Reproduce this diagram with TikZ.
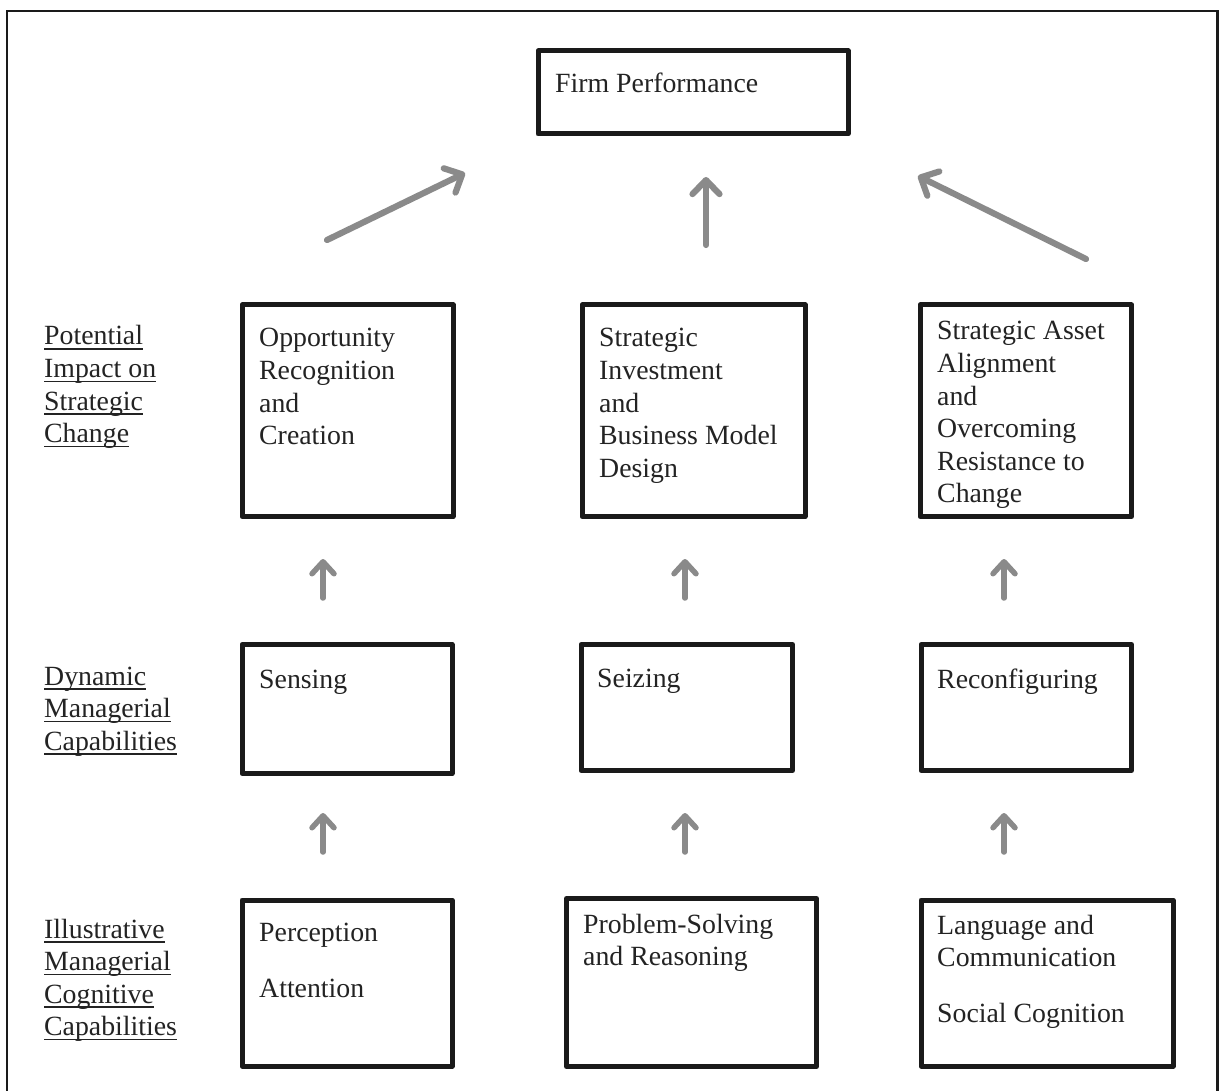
\documentclass[tikz,border=0pt]{standalone}
\usepackage{fontspec}
\setmainfont{Liberation Serif}
\usetikzlibrary{arrows.meta}

\definecolor{ink}{HTML}{232323}
\definecolor{edge}{HTML}{1A1A1A}
\definecolor{arrowgray}{HTML}{8A8A8A}

% body text size and line spacing
\newcommand\txtsize{\fontsize{27.8}{32.6}\selectfont}
% several lines, top-aligned, baseline of the first line as reference
\newcommand\linesof[1]{\parbox[t]{320pt}{\raggedright #1}}
% word-style underline at a fixed depth below the baseline
\newlength\ulwd
\newcommand\ulword[1]{\leavevmode\settowidth\ulwd{#1}\rlap{\color{ink}\rule[-4.6pt]{\ulwd}{1.5pt}}#1}

\tikzset{
  box/.style={draw=edge, line width=5pt, rectangle, inner sep=0pt, anchor=north west, line join=round},
  boxtext/.style={anchor=base west, inner sep=0pt, text=ink, font=\txtsize},
  rowlabel/.style={anchor=base west, inner sep=0pt, text=ink, font=\txtsize},
  uparrow/.style={draw=arrowgray, line width=5.5pt, line cap=round, line join=round,
    -{Straight Barb[length=12pt, width=22pt, line cap=round, line join=round]}},
  bigarrow/.style={draw=arrowgray, line width=6.2pt, line cap=round, line join=round,
    -{Straight Barb[length=14pt, width=27pt, line cap=round, line join=round]}},
  frame/.style={draw=edge, line width=2.5pt}
}

\begin{document}
\begin{tikzpicture}[x=1pt, y=-1pt]
\useasboundingbox (0,0) rectangle (1219,1091);
\fill[white] (0,0) rectangle (1219,1091);

% outer frame (open at the bottom)
\draw[frame] (7,1095) -- (7,11) -- (1217.5,11) -- (1217.5,1095);

% ---- top: firm performance
\node[box, minimum width=310pt, minimum height=83pt] (firm) at (535.5,48.5) {};
\node[boxtext] (firmt) at (555,93) {Firm Performance};

% ---- strategic change row
\node[box, minimum width=211pt, minimum height=211.5pt] (opp) at (239.5,302.5) {};
\node[box, minimum width=223pt, minimum height=211.5pt] (inv) at (579.5,302.5) {};
\node[box, minimum width=211.5pt, minimum height=211.5pt] (asset) at (917.5,302.5) {};
\node[boxtext] (oppt) at (259,347) {\linesof{Opportunity\\Recognition\\and\\Creation}};
\node[boxtext] (invt) at (599,347) {\linesof{Strategic\\Investment\\and\\Business Model\\Design}};
\node[boxtext] (assett) at (937,340) {\linesof{Strategic Asset\\Alignment\\and\\Overcoming\\Resistance to\\Change}};

% ---- dynamic capabilities row
\node[box, minimum width=210pt, minimum height=129pt] (sens) at (239.5,642) {};
\node[box, minimum width=211.5pt, minimum height=126pt] (seiz) at (578.5,642) {};
\node[box, minimum width=210.5pt, minimum height=126pt] (reconf) at (918.5,642) {};
\node[boxtext] (senst) at (259,688) {Sensing};
\node[boxtext] (seizt) at (597,687) {Seizing};
\node[boxtext] (reconft) at (937,688) {Reconfiguring};

% ---- cognitive capabilities row
\node[box, minimum width=210pt, minimum height=166pt] (perc) at (239.5,897.5) {};
\node[box, minimum width=250pt, minimum height=168pt] (prob) at (564,896) {};
\node[box, minimum width=252pt, minimum height=166pt] (lang) at (918.5,897.5) {};
\node[boxtext] (perct) at (259,941) {\linesof{Perception\\[24pt]Attention}};
\node[boxtext] (probt) at (583,933) {\linesof{Problem-Solving\\and Reasoning}};
\node[boxtext] (langt) at (937,934) {\linesof{Language and\\Communication\\[23.5pt]Social Cognition}};

% ---- row labels
\node[rowlabel] (lab1) at (44,345) {\linesof{\ulword{Potential}\\\ulword{Impact on}\\\ulword{Strategic}\\\ulword{Change}}};
\node[rowlabel] (lab2) at (44,685) {\linesof{\ulword{Dynamic}\\\ulword{Managerial}\\\ulword{Capabilities}}};
\node[rowlabel] (lab3) at (44,938) {\linesof{\ulword{Illustrative}\\\ulword{Managerial}\\\ulword{Cognitive}\\\ulword{Capabilities}}};

% ---- arrow end points
\coordinate (l1a) at (327,240);
\coordinate (l1b) at (465,173);
\coordinate (m1a) at (706,245);
\coordinate (m1b) at (706,177);
\coordinate (r1a) at (1086,259);
\coordinate (r1b) at (918,176);

\coordinate (l2a) at (323,598);
\coordinate (l2b) at (323,559);
\coordinate (m2a) at (685,598);
\coordinate (m2b) at (685,559);
\coordinate (r2a) at (1004,598);
\coordinate (r2b) at (1004,559);

\coordinate (l3a) at (323,852);
\coordinate (l3b) at (323,813);
\coordinate (m3a) at (685,852);
\coordinate (m3b) at (685,813);
\coordinate (r3a) at (1004,852);
\coordinate (r3b) at (1004,813);

% ---- arrows
\draw[bigarrow] (l1a) -- (l1b);
\draw[bigarrow] (m1a) -- (m1b);
\draw[bigarrow] (r1a) -- (r1b);
\draw[uparrow] (l2a) -- (l2b);
\draw[uparrow] (m2a) -- (m2b);
\draw[uparrow] (r2a) -- (r2b);
\draw[uparrow] (l3a) -- (l3b);
\draw[uparrow] (m3a) -- (m3b);
\draw[uparrow] (r3a) -- (r3b);
\end{tikzpicture}
\end{document}
